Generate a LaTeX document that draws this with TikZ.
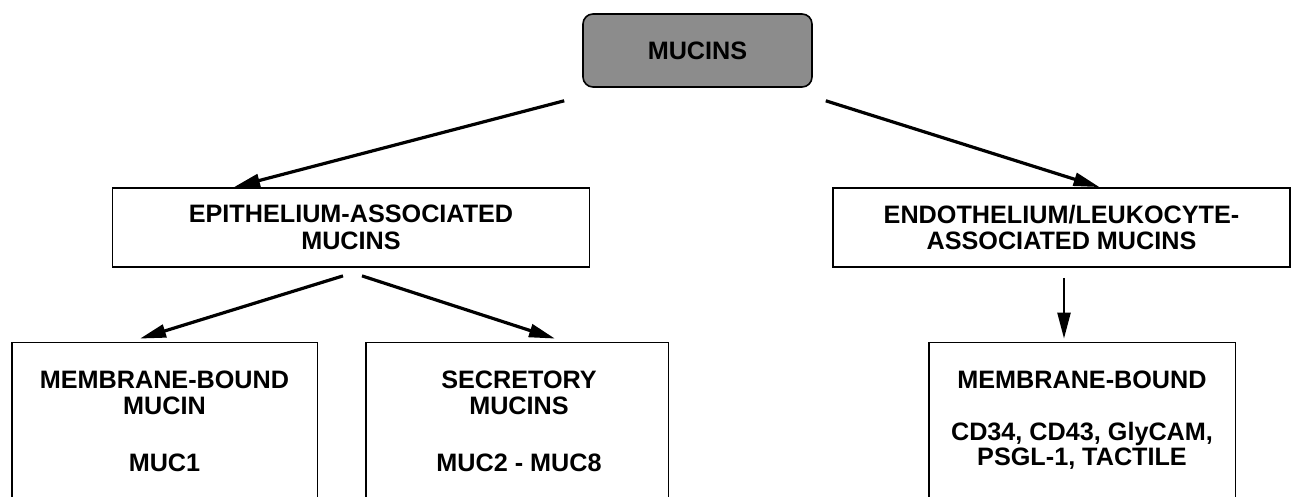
\documentclass[tikz,border=0pt]{standalone}
\usepackage{fontspec}
\setmainfont{Liberation Sans}
\usetikzlibrary{arrows.meta}
\begin{document}
\begin{tikzpicture}[x=0.5pt,y=-0.5pt,
  every node/.style={font=\fontsize{12.6}{12.8}\selectfont\bfseries, inner sep=0pt, align=center},
  box/.style={draw=black, line width=0.9pt, rectangle},
  topbox/.style={draw=black, line width=0.8pt, rounded corners=5pt, fill=black!45},
  openbox/.style={rectangle, draw=none},
  sides/.style={draw=black, line width=0.9pt},
  arr/.style={line width=1.6pt, -{Triangle[length=13pt,width=6.5pt]}}
]
\useasboundingbox (0,0) rectangle (1296,497);

% top node
\node[topbox, minimum width=114.5pt, minimum height=36.5pt] (mucins) at (697.5,50.5) {MUCINS};

% second level
\node[box, minimum width=238.5pt, minimum height=39.5pt, font=\fontsize{12.6}{13.5}\selectfont\bfseries] (epi) at (351,227.5) {EPITHELIUM-ASSOCIATED\\MUCINS};
\node[box, minimum width=228.5pt, minimum height=39.5pt] (endo) at (1061.5,227.5) {ENDOTHELIUM/LEUKOCYTE-\\ASSOCIATED MUCINS};

% third level (boxes open at the bottom edge of the picture)
\node[openbox, minimum width=152.5pt, minimum height=77pt] (mb) at (164.5,420) {};
\node[openbox, minimum width=151pt, minimum height=77pt] (sec) at (517,420) {};
\node[openbox, minimum width=153pt, minimum height=77pt] (mbr) at (1082,420) {};
\draw[sides] (mb.south west) |- (mb.north east) -- (mb.south east);
\draw[sides] (sec.south west) |- (sec.north east) -- (sec.south east);
\draw[sides] (mbr.south west) |- (mbr.north east) -- (mbr.south east);

\node (mbT) at (164.5,393) {MEMBRANE-BOUND\\MUCIN};
\node (mbS) at (164.5,463) {MUC1};
\node (secT) at (519,393) {SECRETORY\\MUCINS};
\node (secS) at (519,463) {MUC2 - MUC8};
\node (mbrT) at (1082,380) {MEMBRANE-BOUND};
\node (mbrS) at (1082,446) {CD34, CD43, GlyCAM,\\PSGL-1, TACTILE};

% connectors
\draw[arr] ([shift={(-18,13)}]mucins.south west) -- ([shift={(-117,0)}]epi.north);
\draw[arr] ([shift={(13,13)}]mucins.south east) -- ([shift={(38,0)}]endo.north);
\draw[arr] ([shift={(-8,8)}]epi.south) -- ([shift={(-24.5,-4)}]mb.north);
\draw[arr] ([shift={(11,8)}]epi.south) -- ([shift={(38,-4)}]sec.north);
\draw[arr, line width=1.2pt] ([shift={(2.5,10)}]endo.south) -- ([shift={(-18,-4)}]mbr.north);
\end{tikzpicture}
\end{document}
